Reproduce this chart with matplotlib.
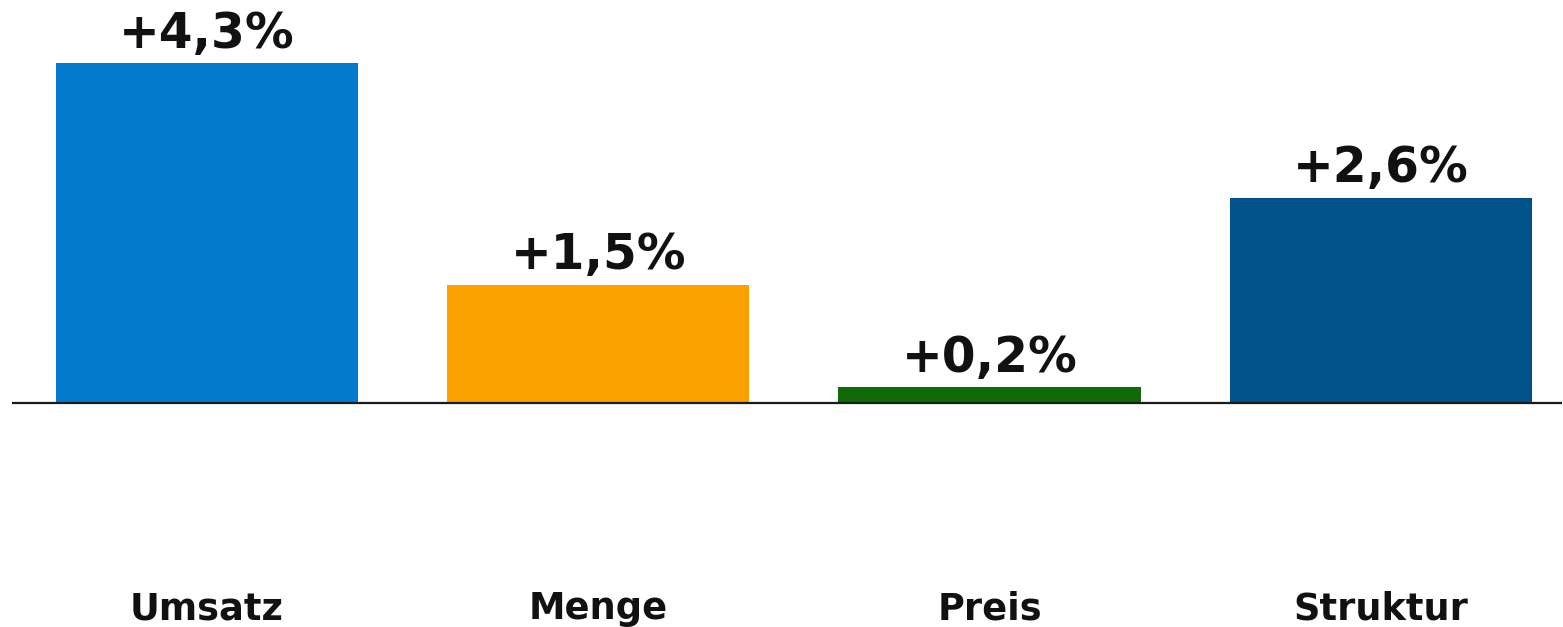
import matplotlib
matplotlib.use("Agg")
import matplotlib.pyplot as plt

categories = ["Umsatz", "Menge", "Preis", "Struktur"]
values = [4.3, 1.5, 0.2, 2.6]
value_labels = ["+4,3%", "+1,5%", "+0,2%", "+2,6%"]
colors = ["#027ACE", "#FBA100", "#0F6A08", "#01528A"]

W, H = 1563, 627
fig = plt.figure(figsize=(W / 100, H / 100), dpi=100)
ax = fig.add_axes([12 / W, 0, (1562 - 12) / W, 1])

x = list(range(len(categories)))
ax.bar(x, values, width=0.772, color=colors, zorder=2)

ppu = 79.0  # pixels per unit
ax.set_ylim(-(H - 403) / ppu, 403 / ppu)
ax.set_xlim(-0.498, 3.463)
ax.axhline(0, color="#1a1a1a", lw=1.6, zorder=3)

for xi, v, lab in zip(x, values, value_labels):
    ax.annotate(lab, (xi, v), xytext=(0, 11), textcoords="offset points",
                ha="center", va="baseline", fontsize=35, fontweight="bold",
                color="#111111", family="DejaVu Sans")

for xi, c in zip(x, categories):
    ax.text(xi, -(619 - 403) / ppu, c, ha="center", va="baseline",
            fontsize=26.5, fontweight="bold", color="#111111", family="DejaVu Sans")

ax.axis("off")
fig.savefig("out.png", dpi=100)
